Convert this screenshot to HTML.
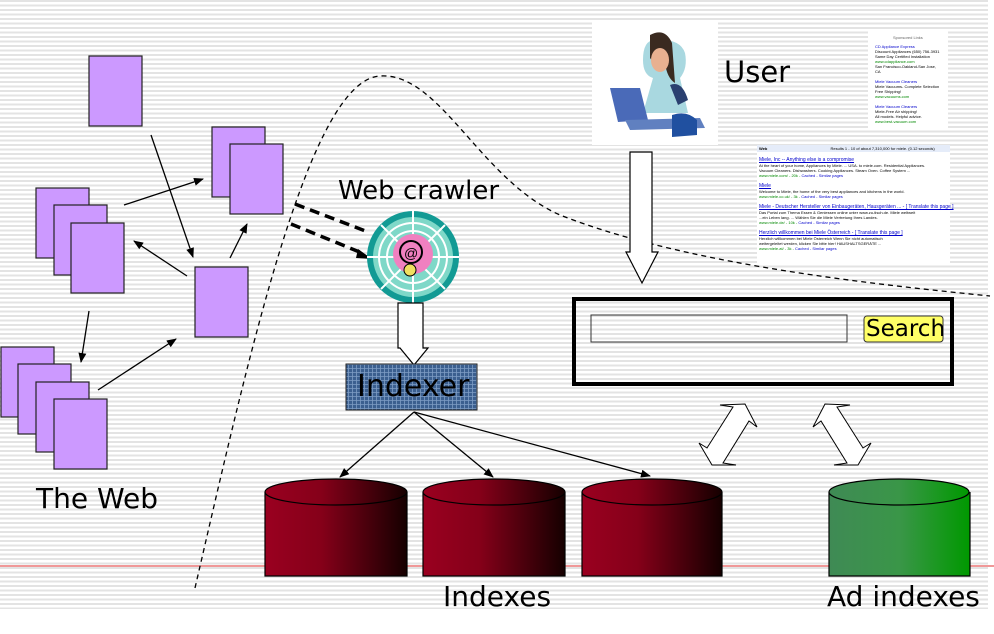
<!DOCTYPE html>
<html><head><meta charset="utf-8"><style>
html,body{margin:0;padding:0;background:#fff;}
#c{position:relative;width:994px;height:634px;overflow:hidden;font-family:"DejaVu Sans","Liberation Sans",sans-serif;}
#bg{position:absolute;left:0;top:0;width:988px;height:609px;background:repeating-linear-gradient(to bottom,#e3e3e3 0,#e3e3e3 2px,#fff 2px,#fff 4.5px);}
.t{position:absolute;color:#000;white-space:nowrap;}
.g{font-family:"Liberation Sans",sans-serif;font-size:4px;line-height:5px;position:absolute;white-space:nowrap;}
</style></head><body><div id="c"><div id="bg"></div>
<svg width="994" height="634" style="position:absolute;left:0;top:0">
<defs>
<marker id="ah" markerWidth="10" markerHeight="8" refX="9" refY="4" orient="auto" markerUnits="userSpaceOnUse"><path d="M0,0 L10,4 L0,8z" fill="#000"/></marker>
<linearGradient id="red" x1="0" x2="1"><stop offset="0" stop-color="#9a0020"/><stop offset="0.4" stop-color="#850019"/><stop offset="1" stop-color="#150000"/></linearGradient>
<linearGradient id="grn" x1="0" x2="1"><stop offset="0" stop-color="#3f8a55"/><stop offset="0.5" stop-color="#3a9648"/><stop offset="1" stop-color="#009900"/></linearGradient>
<pattern id="grid" width="4" height="4" patternUnits="userSpaceOnUse"><rect width="4" height="4" fill="#3b5f8f"/><path d="M0 0.5H4M0.5 0V4" stroke="#7d9cc4" stroke-width="0.8"/></pattern>
</defs>
<line x1="0" y1="566" x2="994" y2="566" stroke="#e03030" stroke-width="1"/>
<path d="M195 588 C250 350 310 80 380 76 C440 72 480 180 560 215 C680 262 850 282 990 296" fill="none" stroke="#000" stroke-width="1.3" stroke-dasharray="5,4"/>
<g fill="#cc99ff" stroke="#222" stroke-width="1.2">
<rect x="89" y="56" width="53" height="70"/>
<rect x="212" y="127" width="53" height="70"/><rect x="230" y="144" width="53" height="70"/>
<rect x="36" y="188" width="53" height="70"/><rect x="54" y="205" width="53" height="70"/><rect x="71" y="223" width="53" height="70"/>
<rect x="195" y="267" width="53" height="70"/>
<rect x="1" y="347" width="53" height="70"/><rect x="18" y="364" width="53" height="70"/><rect x="36" y="382" width="53" height="70"/><rect x="54" y="399" width="53" height="70"/>
</g>
<g stroke="#000" stroke-width="1.3" marker-end="url(#ah)">
<line x1="151" y1="135" x2="193" y2="257"/>
<line x1="124" y1="205" x2="203" y2="179"/>
<line x1="187" y1="276" x2="134" y2="241"/>
<line x1="230" y1="258" x2="247" y2="224"/>
<line x1="89" y1="311" x2="81" y2="362"/>
<line x1="98" y1="390" x2="176" y2="339"/>
<line x1="414" y1="412" x2="340" y2="477"/>
<line x1="414" y1="412" x2="493" y2="477"/>
<line x1="414" y1="412" x2="650" y2="476"/>
</g>
<g stroke="#000" stroke-width="3.5" stroke-dasharray="10,6">
<line x1="295" y1="204" x2="368" y2="232"/>
<line x1="291" y1="224" x2="362" y2="253"/>
</g>
<path d="M358 249 L372 259 L356 258z" fill="#000"/>
<!-- spider -->
<circle cx="413" cy="257" r="46" fill="#129a94"/>
<circle cx="413" cy="257" r="40" fill="#7fd8c8"/>
<g stroke="#fff" stroke-width="2" fill="none">
<circle cx="413" cy="257" r="34"/><circle cx="413" cy="257" r="26"/>
<path d="M413 211V303M367 257H459M381 225L445 289M445 225L381 289"/>
</g>
<circle cx="413" cy="254" r="20" fill="#f080c0"/>
<circle cx="411" cy="252" r="11" fill="none" stroke="#000" stroke-width="2"/>
<text x="404" y="258" font-size="14" font-family="Liberation Sans">@</text>
<circle cx="410" cy="270" r="6" fill="#f0e060" stroke="#000"/>
<!-- hollow arrows -->
<path d="M398 303H423V348H428L414 365L400 348H398z" fill="#fff" stroke="#000" stroke-width="1.2"/>
<path d="M630 152H652V252H658L642 283L626 252H630z" fill="#fff" stroke="#000" stroke-width="1.2"/>
<rect x="346" y="364" width="131" height="46" fill="url(#grid)" stroke="#222"/>
<!-- cylinders -->
<g stroke="#000" stroke-width="1.2">
<path d="M265 492V576H407V492" fill="url(#red)"/><ellipse cx="336" cy="492" rx="71" ry="13" fill="url(#red)"/>
<path d="M423 492V576H565V492" fill="url(#red)"/><ellipse cx="494" cy="492" rx="71" ry="13" fill="url(#red)"/>
<path d="M582 492V576H722V492" fill="url(#red)"/><ellipse cx="652" cy="492" rx="70" ry="13" fill="url(#red)"/>
<path d="M829 492V576H970V492" fill="url(#grn)"/><ellipse cx="899" cy="492" rx="70" ry="13" fill="url(#grn)"/>
</g>
<!-- search box -->
<rect x="574" y="299" width="378" height="85" fill="none" stroke="#000" stroke-width="4"/>
<rect x="591" y="315" width="256" height="27" fill="none" stroke="#333" stroke-width="1"/>
<rect x="864" y="316" width="79" height="26" rx="3" fill="#ffff66" stroke="#333"/>
<!-- double arrows -->
<path d="M720 405 L745 404 L757 427 L749 421 L723 463 L736 465 L712 465 L699 443 L707 448 L733 407z" fill="#fff" stroke="#000" stroke-width="1"/>
<path d="M850 405 L825 404 L813 427 L821 421 L847 463 L834 465 L858 465 L871 443 L863 448 L837 407z" fill="#fff" stroke="#000" stroke-width="1"/>
<!-- user image -->
<rect x="592" y="20" width="126" height="125" fill="#fff"/>
<path d="M655 40 q-12 0 -12 20 q0 15 10 18 l-10 35 h45 l-8 -35 q8 -10 5 -25 q-5 -15 -30 -13z" fill="#a9d8e0"/>
<path d="M650 35 q15 -8 22 8 l3 40 q-8 -5 -10 -20 q-8 5 -15 -5z" fill="#3a2a20"/>
<ellipse cx="660" cy="60" rx="9" ry="12" fill="#e8b090"/>
<path d="M610 88 L640 88 L648 120 L618 122z" fill="#4a6ab8"/>
<path d="M625 120 L700 118 L705 128 L630 130z" fill="#6080c0"/>
<path d="M672 115 q15 -5 25 5 l0 15 l-25 2z" fill="#2050a0"/>
<path d="M670 85 q12 -5 18 15 l-10 5z" fill="#2a4070"/>
<!-- results -->
<rect x="868" y="30" width="80" height="100" fill="#fff"/>
<rect x="757" y="145" width="193" height="118" fill="#fff"/>
<rect x="757" y="145" width="193" height="7" fill="#e5ecf9"/>
</svg>
<div class="g" style="left:893px;top:35px;color:#666">Sponsored Links</div>
<div class="g" style="left:875px;top:44px;"><span style="color:#00c">CD Appliance Express</span><br>Discount Appliances (650) 756-3931<br>Same Day Certified Installation<br><span style="color:#080">www.cdappliance.com</span><br>San Francisco-Oakland-San Jose,<br>CA<br><br><span style="color:#00c">Miele Vacuum Cleaners</span><br>Miele Vacuums- Complete Selection<br>Free Shipping!<br><span style="color:#080">www.vacuums.com</span><br><br><span style="color:#00c">Miele Vacuum Cleaners</span><br>Miele-Free Air shipping!<br>All models. Helpful advice.<br><span style="color:#080">www.best-vacuum.com</span></div>
<div class="g" style="left:759px;top:146px;font-weight:bold">Web <span style="margin-left:62px;font-weight:normal">Results 1 - 10 of about 7,310,000 for miele. (0.12 seconds)</span></div>
<div class="g" style="left:759px;top:157px;"><span style="color:#00c;text-decoration:underline;font-size:5px">Miele, Inc -- Anything else is a compromise</span><br>At the heart of your home, Appliances by Miele. ... USA. to miele.com. Residential Appliances.<br>Vacuum Cleaners. Dishwashers. Cooking Appliances. Steam Oven. Coffee System ...<br><span style="color:#080">www.miele.com/ - 20k - </span><span style="color:#00c">Cached - Similar pages</span><br><br><span style="color:#00c;text-decoration:underline;font-size:5px">Miele</span><br>Welcome to Miele, the home of the very best appliances and kitchens in the world.<br><span style="color:#080">www.miele.co.uk/ - 3k - </span><span style="color:#00c">Cached - Similar pages</span><br><br><span style="color:#00c;text-decoration:underline;font-size:5px">Miele - Deutscher Hersteller von Einbaugeräten, Hausgeräten ... - [ Translate this page ]</span><br>Das Portal zum Thema Essen &amp; Geniessen online unter www.zu-tisch.de. Miele weltweit<br>...ein Leben lang. ... Wählen Sie die Miele Vertretung Ihres Landes.<br><span style="color:#080">www.miele.de/ - 10k - </span><span style="color:#00c">Cached - Similar pages</span><br><br><span style="color:#00c;text-decoration:underline;font-size:5px">Herzlich willkommen bei Miele Österreich - [ Translate this page ]</span><br>Herzlich willkommen bei Miele Österreich Wenn Sie nicht automatisch<br>weitergeleitet werden, klicken Sie bitte hier! HAUSHALTSGERÄTE ...<br><span style="color:#080">www.miele.at/ - 3k - </span><span style="color:#00c">Cached - Similar pages</span></div>
<div class="t" style="left:338px;top:176px;font-size:26px;">Web crawler</div>
<div class="t" style="left:357px;top:368px;font-size:30px;line-height:38px;">Indexer</div>
<div class="t" style="left:724px;top:55px;font-size:29px;">User</div>
<div class="t" style="left:866px;top:314px;font-size:23px;line-height:30px;">Search</div>
<div class="t" style="left:36px;top:482px;font-size:28px;">The Web</div>
<div class="t" style="left:443px;top:580px;font-size:28px;">Indexes</div>
<div class="t" style="left:827px;top:580px;font-size:28px;">Ad indexes</div>
</div></body></html>
